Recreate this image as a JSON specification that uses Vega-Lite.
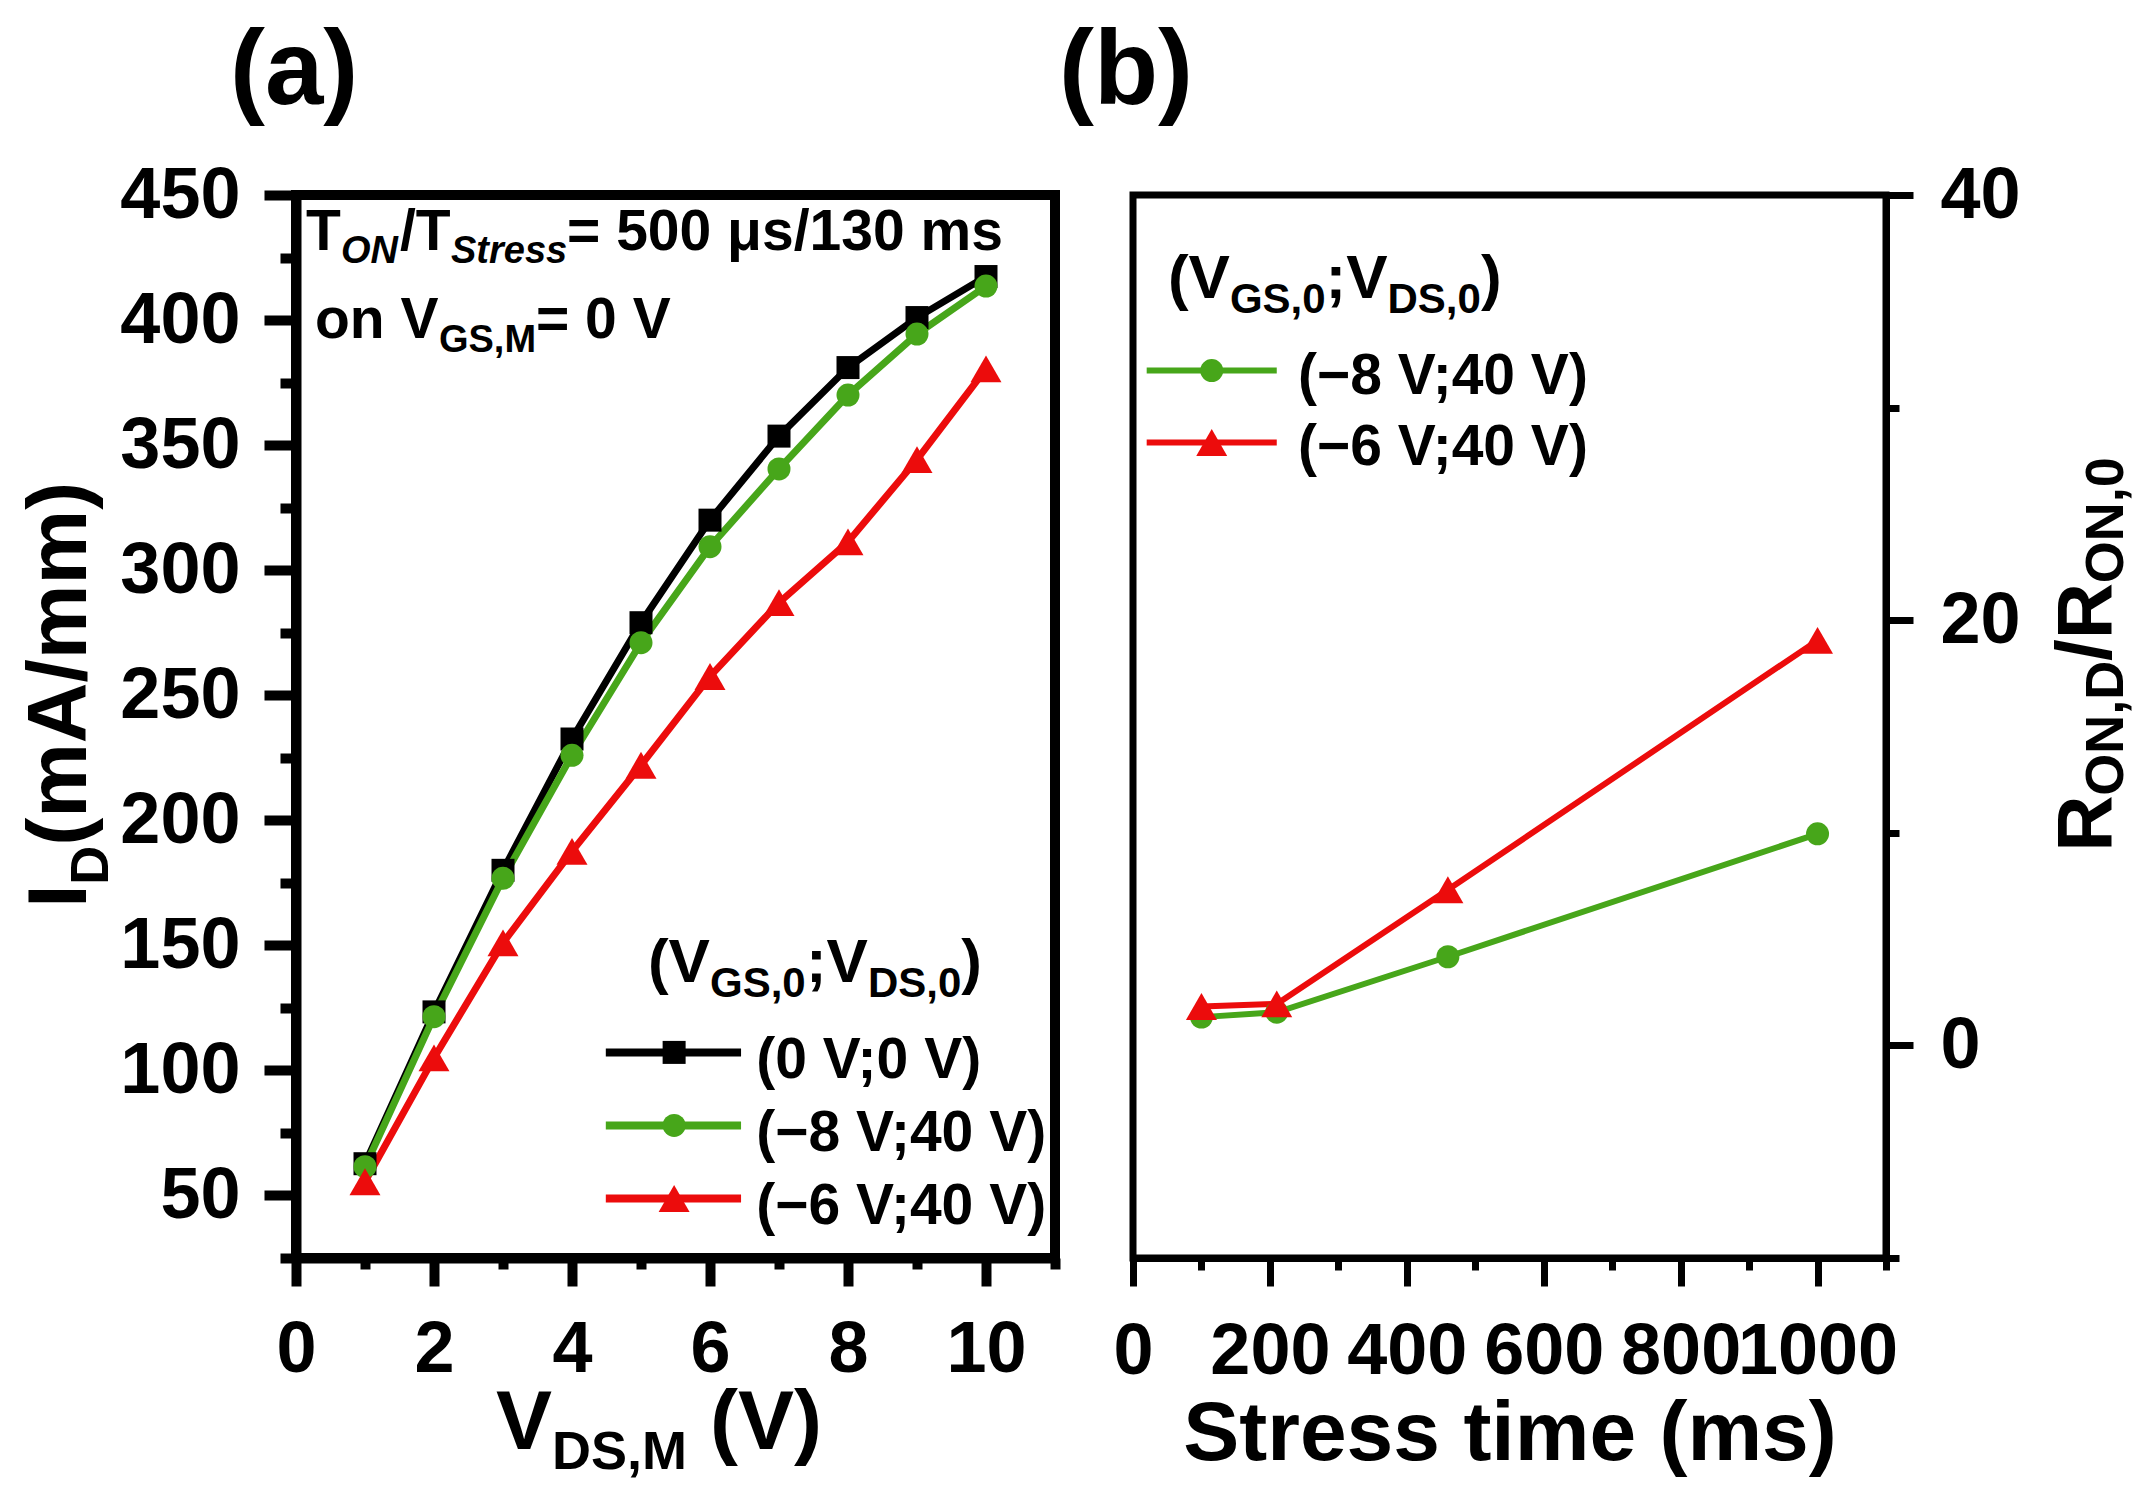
{
  "$schema": "https://vega.github.io/schema/vega-lite/v6.json",
  "background": "white",
  "padding": {"left": 14, "top": 15, "right": 5, "bottom": 5},
  "bounds": "flush",
  "spacing": 78,
  "datasets": {
    "iv": [
      {"vds": 1, "id": 62.7, "cond": "(0 V;0 V)"},
      {"vds": 2, "id": 123.4, "cond": "(0 V;0 V)"},
      {"vds": 3, "id": 180, "cond": "(0 V;0 V)"},
      {"vds": 4, "id": 232.5, "cond": "(0 V;0 V)"},
      {"vds": 5, "id": 279, "cond": "(0 V;0 V)"},
      {"vds": 6, "id": 320, "cond": "(0 V;0 V)"},
      {"vds": 7, "id": 353.6, "cond": "(0 V;0 V)"},
      {"vds": 8, "id": 381, "cond": "(0 V;0 V)"},
      {"vds": 9, "id": 401, "cond": "(0 V;0 V)"},
      {"vds": 10, "id": 417.4, "cond": "(0 V;0 V)"},
      {"vds": 1, "id": 61.5, "cond": "(−8 V;40 V)"},
      {"vds": 2, "id": 121.5, "cond": "(−8 V;40 V)"},
      {"vds": 3, "id": 176.8, "cond": "(−8 V;40 V)"},
      {"vds": 4, "id": 226, "cond": "(−8 V;40 V)"},
      {"vds": 5, "id": 271, "cond": "(−8 V;40 V)"},
      {"vds": 6, "id": 309.4, "cond": "(−8 V;40 V)"},
      {"vds": 7, "id": 340.5, "cond": "(−8 V;40 V)"},
      {"vds": 8, "id": 370, "cond": "(−8 V;40 V)"},
      {"vds": 9, "id": 394.4, "cond": "(−8 V;40 V)"},
      {"vds": 10, "id": 413.6, "cond": "(−8 V;40 V)"},
      {"vds": 1, "id": 55.5, "cond": "(−6 V;40 V)"},
      {"vds": 2, "id": 105, "cond": "(−6 V;40 V)"},
      {"vds": 3, "id": 151, "cond": "(−6 V;40 V)"},
      {"vds": 4, "id": 187.6, "cond": "(−6 V;40 V)"},
      {"vds": 5, "id": 222, "cond": "(−6 V;40 V)"},
      {"vds": 6, "id": 257.5, "cond": "(−6 V;40 V)"},
      {"vds": 7, "id": 287, "cond": "(−6 V;40 V)"},
      {"vds": 8, "id": 311.3, "cond": "(−6 V;40 V)"},
      {"vds": 9, "id": 344.2, "cond": "(−6 V;40 V)"},
      {"vds": 10, "id": 380.5, "cond": "(−6 V;40 V)"}
    ],
    "rt": [
      {"t": 100, "r": 1.33, "cond": "(−8 V;40 V)"},
      {"t": 210, "r": 1.56, "cond": "(−8 V;40 V)"},
      {"t": 460, "r": 4.17, "cond": "(−8 V;40 V)"},
      {"t": 1000, "r": 9.95, "cond": "(−8 V;40 V)"},
      {"t": 100, "r": 1.83, "cond": "(−6 V;40 V)"},
      {"t": 210, "r": 1.95, "cond": "(−6 V;40 V)"},
      {"t": 460, "r": 7.32, "cond": "(−6 V;40 V)"},
      {"t": 1000, "r": 19.05, "cond": "(−6 V;40 V)"}
    ],
    "legA": [
      {"cond": "(0 V;0 V)", "x1": 4.49, "x2": 6.45, "xm": 5.48, "xt": 6.67, "y": 107.2},
      {"cond": "(−8 V;40 V)", "x1": 4.49, "x2": 6.45, "xm": 5.48, "xt": 6.67, "y": 78},
      {"cond": "(−6 V;40 V)", "x1": 4.49, "x2": 6.45, "xm": 5.48, "xt": 6.67, "y": 48.8}
    ],
    "legB": [
      {"cond": "(−8 V;40 V)", "x1": 20, "x2": 210, "xm": 115, "xt": 241, "y": 31.74},
      {"cond": "(−6 V;40 V)", "x1": 20, "x2": 210, "xm": 115, "xt": 241, "y": 28.36}
    ],
    "txtA": [
      {"role": "note", "text": "T", "x": 0.145, "y": 428},
      {"role": "noteSubI", "text": "ON", "x": 0.652, "y": 428},
      {"role": "note", "text": "/T", "x": 1.507, "y": 428},
      {"role": "noteSubI", "text": "Stress", "x": 2.246, "y": 428},
      {"role": "note", "text": "= 500 μs/130 ms", "x": 3.928, "y": 428},
      {"role": "note", "text": "on V", "x": 0.275, "y": 392.8},
      {"role": "noteSub", "text": "GS,M", "x": 2.072, "y": 392.8},
      {"role": "note", "text": "= 0 V", "x": 3.478, "y": 392.8},
      {"role": "legTitle", "text": "(V", "x": 5.10, "y": 135.2},
      {"role": "legTitleSub", "text": "GS,0", "x": 6.0, "y": 135.2},
      {"role": "legTitle", "text": ";V", "x": 7.39, "y": 135.2},
      {"role": "legTitleSub", "text": "DS,0", "x": 8.29, "y": 135.2},
      {"role": "legTitle", "text": ")", "x": 9.64, "y": 135.2},
      {"role": "xTitle", "text": "V", "x": 2.90, "y": -51.2},
      {"role": "xTitleSub", "text": "DS,M", "x": 3.71, "y": -51.2},
      {"role": "xTitle", "text": "(V)", "x": 6.0, "y": -51.2},
      {"role": "yTitle", "text": "I", "x": -3.04, "y": 165},
      {"role": "yTitleSub", "text": "D", "x": -3.04, "y": 174.2},
      {"role": "yTitle", "text": "(mA/mm)", "x": -3.04, "y": 189.8}
    ],
    "txtB": [
      {"role": "legTitle", "text": "(V", "x": 51, "y": 35.16},
      {"role": "legTitleSub", "text": "GS,0", "x": 141.6, "y": 35.16},
      {"role": "legTitle", "text": ";V", "x": 281.3, "y": 35.16},
      {"role": "legTitleSub", "text": "DS,0", "x": 371.8, "y": 35.16},
      {"role": "legTitle", "text": ")", "x": 508.2, "y": 35.16},
      {"role": "rTitle", "text": "R", "x": 1428, "y": 9.11},
      {"role": "rTitleSub", "text": "ON,D", "x": 1428, "y": 11.74},
      {"role": "rTitle", "text": "/R", "x": 1428, "y": 18.08},
      {"role": "rTitleSub", "text": "ON,0", "x": 1428, "y": 21.74}
    ]
  },
  "hconcat": [
    {
      "width": 759,
      "height": 1063,
      "title": {"text": "(a)", "anchor": "start", "frame": "group", "dx": -66, "offset": -50, "baseline": "alphabetic", "fontSize": 105},
      "view": {"stroke": "black", "strokeWidth": 10},
      "layer": [
        {
          "data": {"name": "iv"},
          "mark": {"type": "line", "strokeWidth": 7},
          "encoding": {
            "x": {
              "field": "vds", "type": "quantitative",
              "scale": {"domain": [0, 11], "nice": false, "zero": false},
              "axis": {
                "title": null, "format": "d",
                "values": [0, 1, 2, 3, 4, 5, 6, 7, 8, 9, 10, 11],
                "labelExpr": "datum.value % 2 === 0 ? datum.label : ''",
                "tickSize": {"condition": {"test": "datum.value % 2 === 0", "value": 28}, "value": 11},
                "tickWidth": 10, "domainWidth": 10, "labelPadding": 28
              }
            },
            "y": {
              "field": "id", "type": "quantitative",
              "scale": {"domain": [25, 450], "nice": false, "zero": false},
              "axis": {
                "title": null, "format": "d",
                "values": [25, 50, 75, 100, 125, 150, 175, 200, 225, 250, 275, 300, 325, 350, 375, 400, 425, 450],
                "labelExpr": "datum.value % 50 === 0 ? datum.label : ''",
                "tickSize": {"condition": {"test": "datum.value % 50 === 0", "value": 32}, "value": 16},
                "tickWidth": 10, "domainWidth": 10, "labelPadding": 24
              }
            },
            "color": {
              "field": "cond", "type": "nominal",
              "scale": {"domain": ["(0 V;0 V)", "(−8 V;40 V)", "(−6 V;40 V)"], "range": ["#000000", "#47a61a", "#ec0c0c"]},
              "legend": null
            }
          }
        },
        {
          "data": {"name": "iv"},
          "mark": {"type": "point", "filled": true, "opacity": 1},
          "encoding": {
            "x": {"field": "vds", "type": "quantitative"},
            "y": {"field": "id", "type": "quantitative"},
            "color": {"field": "cond", "type": "nominal", "legend": null},
            "shape": {"field": "cond", "type": "nominal", "scale": {"domain": ["(0 V;0 V)", "(−8 V;40 V)", "(−6 V;40 V)"], "range": ["square", "circle", "triangle-up"]}, "legend": null},
            "size": {"condition": {"test": "datum.cond === '(−6 V;40 V)'", "value": 960}, "value": 529}
          }
        },
        {
          "data": {"name": "legA"},
          "mark": {"type": "rule", "strokeWidth": 8},
          "encoding": {
            "x": {"field": "x1", "type": "quantitative"},
            "x2": {"field": "x2"},
            "y": {"field": "y", "type": "quantitative"},
            "color": {"field": "cond", "type": "nominal", "legend": null}
          }
        },
        {
          "data": {"name": "legA"},
          "mark": {"type": "point", "filled": true, "opacity": 1},
          "encoding": {
            "x": {"field": "xm", "type": "quantitative"},
            "y": {"field": "y", "type": "quantitative"},
            "color": {"field": "cond", "type": "nominal", "legend": null},
            "shape": {"field": "cond", "type": "nominal", "legend": null},
            "size": {"condition": {"test": "datum.cond === '(−6 V;40 V)'", "value": 960}, "value": 529}
          }
        },
        {
          "data": {"name": "legA"},
          "mark": {"type": "text", "align": "left", "baseline": "alphabetic", "fontSize": 57, "dy": 26},
          "encoding": {
            "x": {"field": "xt", "type": "quantitative"},
            "y": {"field": "y", "type": "quantitative"},
            "text": {"field": "cond"}
          }
        },
        {
          "data": {"name": "txtA"},
          "transform": [{"filter": "datum.role === 'note'"}],
          "mark": {"type": "text", "align": "left", "baseline": "alphabetic", "fontSize": 57},
          "encoding": {
            "x": {"field": "x", "type": "quantitative"},
            "y": {"field": "y", "type": "quantitative"},
            "text": {"field": "text"}
          }
        },
        {
          "data": {"name": "txtA"},
          "transform": [{"filter": "datum.role === 'noteSubI'"}],
          "mark": {"type": "text", "align": "left", "baseline": "alphabetic", "fontSize": 38, "fontStyle": "italic", "dy": 13},
          "encoding": {
            "x": {"field": "x", "type": "quantitative"},
            "y": {"field": "y", "type": "quantitative"},
            "text": {"field": "text"}
          }
        },
        {
          "data": {"name": "txtA"},
          "transform": [{"filter": "datum.role === 'noteSub'"}],
          "mark": {"type": "text", "align": "left", "baseline": "alphabetic", "fontSize": 38, "dy": 14},
          "encoding": {
            "x": {"field": "x", "type": "quantitative"},
            "y": {"field": "y", "type": "quantitative"},
            "text": {"field": "text"}
          }
        },
        {
          "data": {"name": "txtA"},
          "transform": [{"filter": "datum.role === 'legTitle'"}],
          "mark": {"type": "text", "align": "left", "baseline": "alphabetic", "fontSize": 62},
          "encoding": {
            "x": {"field": "x", "type": "quantitative"},
            "y": {"field": "y", "type": "quantitative"},
            "text": {"field": "text"}
          }
        },
        {
          "data": {"name": "txtA"},
          "transform": [{"filter": "datum.role === 'legTitleSub'"}],
          "mark": {"type": "text", "align": "left", "baseline": "alphabetic", "fontSize": 42, "dy": 15},
          "encoding": {
            "x": {"field": "x", "type": "quantitative"},
            "y": {"field": "y", "type": "quantitative"},
            "text": {"field": "text"}
          }
        },
        {
          "data": {"name": "txtA"},
          "transform": [{"filter": "datum.role === 'xTitle'"}],
          "mark": {"type": "text", "align": "left", "baseline": "alphabetic", "fontSize": 84},
          "encoding": {
            "x": {"field": "x", "type": "quantitative"},
            "y": {"field": "y", "type": "quantitative"},
            "text": {"field": "text"}
          }
        },
        {
          "data": {"name": "txtA"},
          "transform": [{"filter": "datum.role === 'xTitleSub'"}],
          "mark": {"type": "text", "align": "left", "baseline": "alphabetic", "fontSize": 54, "dy": 20},
          "encoding": {
            "x": {"field": "x", "type": "quantitative"},
            "y": {"field": "y", "type": "quantitative"},
            "text": {"field": "text"}
          }
        },
        {
          "data": {"name": "txtA"},
          "transform": [{"filter": "datum.role === 'yTitle'"}],
          "mark": {"type": "text", "align": "left", "baseline": "alphabetic", "fontSize": 84, "angle": 270},
          "encoding": {
            "x": {"field": "x", "type": "quantitative"},
            "y": {"field": "y", "type": "quantitative"},
            "text": {"field": "text"}
          }
        },
        {
          "data": {"name": "txtA"},
          "transform": [{"filter": "datum.role === 'yTitleSub'"}],
          "mark": {"type": "text", "align": "left", "baseline": "alphabetic", "fontSize": 54, "angle": 270, "dy": 22},
          "encoding": {
            "x": {"field": "x", "type": "quantitative"},
            "y": {"field": "y", "type": "quantitative"},
            "text": {"field": "text"}
          }
        }
      ]
    },
    {
      "width": 753,
      "height": 1063,
      "title": {"text": "(b)", "anchor": "start", "frame": "group", "dx": -74, "offset": -50, "baseline": "alphabetic", "fontSize": 105},
      "view": {"stroke": "black", "strokeWidth": 7},
      "layer": [
        {
          "data": {"name": "rt"},
          "mark": {"type": "line", "strokeWidth": 6},
          "encoding": {
            "x": {
              "field": "t", "type": "quantitative",
              "scale": {"domain": [0, 1100], "nice": false, "zero": false},
              "axis": {
                "title": "Stress time (ms)", "format": "d",
                "values": [0, 100, 200, 300, 400, 500, 600, 700, 800, 900, 1000, 1100],
                "labelExpr": "datum.value % 200 === 0 && datum.value <= 1000 ? datum.label : ''",
                "tickSize": {"condition": {"test": "datum.value % 200 === 0", "value": 28}, "value": 12},
                "tickWidth": 7, "domainWidth": 7, "labelPadding": 30,
                "titleFontSize": 84, "titlePadding": 6
              }
            },
            "y": {
              "field": "r", "type": "quantitative",
              "scale": {"domain": [-10, 40], "nice": false, "zero": false},
              "axis": {
                "orient": "right", "title": null, "format": "d",
                "values": [-10, 0, 10, 20, 30, 40],
                "labelExpr": "datum.value % 20 === 0 ? datum.label : ''",
                "tickSize": {"condition": {"test": "datum.value % 20 === 0", "value": 27}, "value": 13},
                "tickWidth": 7, "domainWidth": 7, "labelPadding": 27
              }
            },
            "color": {
              "field": "cond", "type": "nominal",
              "scale": {"domain": ["(0 V;0 V)", "(−8 V;40 V)", "(−6 V;40 V)"], "range": ["#000000", "#47a61a", "#ec0c0c"]},
              "legend": null
            }
          }
        },
        {
          "data": {"name": "rt"},
          "mark": {"type": "point", "filled": true, "opacity": 1},
          "encoding": {
            "x": {"field": "t", "type": "quantitative"},
            "y": {"field": "r", "type": "quantitative"},
            "color": {"field": "cond", "type": "nominal", "legend": null},
            "shape": {"field": "cond", "type": "nominal", "scale": {"domain": ["(0 V;0 V)", "(−8 V;40 V)", "(−6 V;40 V)"], "range": ["square", "circle", "triangle-up"]}, "legend": null},
            "size": {"condition": {"test": "datum.cond === '(−6 V;40 V)'", "value": 960}, "value": 529}
          }
        },
        {
          "data": {"name": "legB"},
          "mark": {"type": "rule", "strokeWidth": 6},
          "encoding": {
            "x": {"field": "x1", "type": "quantitative"},
            "x2": {"field": "x2"},
            "y": {"field": "y", "type": "quantitative"},
            "color": {"field": "cond", "type": "nominal", "legend": null}
          }
        },
        {
          "data": {"name": "legB"},
          "mark": {"type": "point", "filled": true, "opacity": 1},
          "encoding": {
            "x": {"field": "xm", "type": "quantitative"},
            "y": {"field": "y", "type": "quantitative"},
            "color": {"field": "cond", "type": "nominal", "legend": null},
            "shape": {"field": "cond", "type": "nominal", "legend": null},
            "size": {"condition": {"test": "datum.cond === '(−6 V;40 V)'", "value": 960}, "value": 529}
          }
        },
        {
          "data": {"name": "legB"},
          "mark": {"type": "text", "align": "left", "baseline": "alphabetic", "fontSize": 57, "dy": 23},
          "encoding": {
            "x": {"field": "xt", "type": "quantitative"},
            "y": {"field": "y", "type": "quantitative"},
            "text": {"field": "cond"}
          }
        },
        {
          "data": {"name": "txtB"},
          "transform": [{"filter": "datum.role === 'legTitle'"}],
          "mark": {"type": "text", "align": "left", "baseline": "alphabetic", "fontSize": 62},
          "encoding": {
            "x": {"field": "x", "type": "quantitative"},
            "y": {"field": "y", "type": "quantitative"},
            "text": {"field": "text"}
          }
        },
        {
          "data": {"name": "txtB"},
          "transform": [{"filter": "datum.role === 'legTitleSub'"}],
          "mark": {"type": "text", "align": "left", "baseline": "alphabetic", "fontSize": 42, "dy": 15},
          "encoding": {
            "x": {"field": "x", "type": "quantitative"},
            "y": {"field": "y", "type": "quantitative"},
            "text": {"field": "text"}
          }
        },
        {
          "data": {"name": "txtB"},
          "transform": [{"filter": "datum.role === 'rTitle'"}],
          "mark": {"type": "text", "align": "left", "baseline": "alphabetic", "fontSize": 78, "angle": 270},
          "encoding": {
            "x": {"field": "x", "type": "quantitative"},
            "y": {"field": "y", "type": "quantitative"},
            "text": {"field": "text"}
          }
        },
        {
          "data": {"name": "txtB"},
          "transform": [{"filter": "datum.role === 'rTitleSub'"}],
          "mark": {"type": "text", "align": "left", "baseline": "alphabetic", "fontSize": 54, "angle": 270, "dy": 12},
          "encoding": {
            "x": {"field": "x", "type": "quantitative"},
            "y": {"field": "y", "type": "quantitative"},
            "text": {"field": "text"}
          }
        }
      ]
    }
  ],
  "config": {
    "font": "Liberation Sans",
    "title": {"font": "Liberation Sans", "fontWeight": "bold", "color": "black"},
    "text": {"font": "Liberation Sans", "fontWeight": "bold", "color": "black"},
    "axis": {
      "grid": false,
      "labelFont": "Liberation Sans",
      "labelFontWeight": "bold",
      "labelFontSize": 72,
      "labelColor": "black",
      "labelBound": false,
      "labelFlush": false,
      "labelOverlap": false,
      "tickColor": "black",
      "domainColor": "black",
      "titleFont": "Liberation Sans",
      "titleFontWeight": "bold",
      "titleColor": "black"
    }
  }
}
